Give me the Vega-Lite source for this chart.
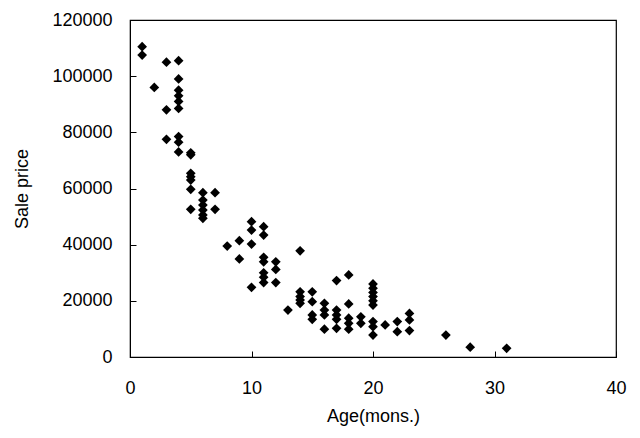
{
  "$schema": "https://vega.github.io/schema/vega-lite/v6.json",
  "autosize": {"type": "none"},
  "padding": {"left": 130, "top": 20, "right": 24, "bottom": 81},
  "width": 486,
  "height": 337,
  "background": "white",
  "config": {
    "view": {"stroke": "black", "strokeWidth": 1.2},
    "axis": {
      "labelFont": "Liberation Sans",
      "titleFont": "Liberation Sans",
      "labelFontSize": 18,
      "titleFontSize": 18,
      "labelColor": "black",
      "titleColor": "black",
      "titleFontWeight": "normal",
      "domainColor": "black",
      "tickColor": "black",
      "grid": false
    }
  },
  "data": {
    "values": [
      {"age": 1, "price": 110500}, {"age": 1, "price": 107500},
      {"age": 2, "price": 96000},
      {"age": 3, "price": 105000}, {"age": 3, "price": 88000}, {"age": 3, "price": 77500},
      {"age": 4, "price": 105500}, {"age": 4, "price": 99000}, {"age": 4, "price": 95000}, {"age": 4, "price": 93000}, {"age": 4, "price": 91000}, {"age": 4, "price": 88500}, {"age": 4, "price": 78500}, {"age": 4, "price": 76500}, {"age": 4, "price": 73000},
      {"age": 5, "price": 72700}, {"age": 5, "price": 72000}, {"age": 5, "price": 65400}, {"age": 5, "price": 64200}, {"age": 5, "price": 63000}, {"age": 5, "price": 59700}, {"age": 5, "price": 52600},
      {"age": 6, "price": 58500}, {"age": 6, "price": 55900}, {"age": 6, "price": 54100}, {"age": 6, "price": 52300}, {"age": 6, "price": 50600}, {"age": 6, "price": 49400},
      {"age": 7, "price": 58500}, {"age": 7, "price": 52600},
      {"age": 8, "price": 39500},
      {"age": 9, "price": 41400}, {"age": 9, "price": 34900},
      {"age": 10, "price": 48200}, {"age": 10, "price": 45200}, {"age": 10, "price": 40200}, {"age": 10, "price": 24800},
      {"age": 11, "price": 46400}, {"age": 11, "price": 43400}, {"age": 11, "price": 35500}, {"age": 11, "price": 33900}, {"age": 11, "price": 30000}, {"age": 11, "price": 28400}, {"age": 11, "price": 26500},
      {"age": 12, "price": 33900}, {"age": 12, "price": 31200}, {"age": 12, "price": 26500},
      {"age": 13, "price": 16700},
      {"age": 14, "price": 37800}, {"age": 14, "price": 23200}, {"age": 14, "price": 21500}, {"age": 14, "price": 20300}, {"age": 14, "price": 19100},
      {"age": 15, "price": 23200}, {"age": 15, "price": 19700}, {"age": 15, "price": 15000}, {"age": 15, "price": 13400},
      {"age": 16, "price": 19100}, {"age": 16, "price": 16700}, {"age": 16, "price": 15000}, {"age": 16, "price": 9900},
      {"age": 17, "price": 27200}, {"age": 17, "price": 16700}, {"age": 17, "price": 15000}, {"age": 17, "price": 13400}, {"age": 17, "price": 10200},
      {"age": 18, "price": 29200}, {"age": 18, "price": 18900}, {"age": 18, "price": 13800}, {"age": 18, "price": 12000}, {"age": 18, "price": 9900},
      {"age": 19, "price": 14300}, {"age": 19, "price": 12000},
      {"age": 20, "price": 26000}, {"age": 20, "price": 24500}, {"age": 20, "price": 23000}, {"age": 20, "price": 21500}, {"age": 20, "price": 20000}, {"age": 20, "price": 18500}, {"age": 20, "price": 12600}, {"age": 20, "price": 10800}, {"age": 20, "price": 7800},
      {"age": 21, "price": 11400},
      {"age": 22, "price": 12600}, {"age": 22, "price": 9000},
      {"age": 23, "price": 15500}, {"age": 23, "price": 13200}, {"age": 23, "price": 9400},
      {"age": 26, "price": 7800},
      {"age": 28, "price": 3500},
      {"age": 31, "price": 3100}
    ]
  },
  "mark": {"type": "point", "shape": "diamond", "filled": true, "color": "black", "opacity": 1, "size": 95},
  "encoding": {
    "x": {
      "field": "age", "type": "quantitative", "title": "Age(mons.)",
      "scale": {"domain": [0, 40], "nice": false, "zero": true},
      "axis": {"values": [0, 10, 20, 30, 40], "tickSize": -6, "labelPadding": 28, "titlePadding": 10, "labelFlush": false}
    },
    "y": {
      "field": "price", "type": "quantitative", "title": "Sale price",
      "scale": {"domain": [0, 120000], "nice": false},
      "axis": {"values": [0, 20000, 40000, 60000, 80000, 100000, 120000], "format": "d", "tickSize": -6, "labelPadding": 24, "titlePadding": 20, "labelFlush": false}
    }
  }
}
